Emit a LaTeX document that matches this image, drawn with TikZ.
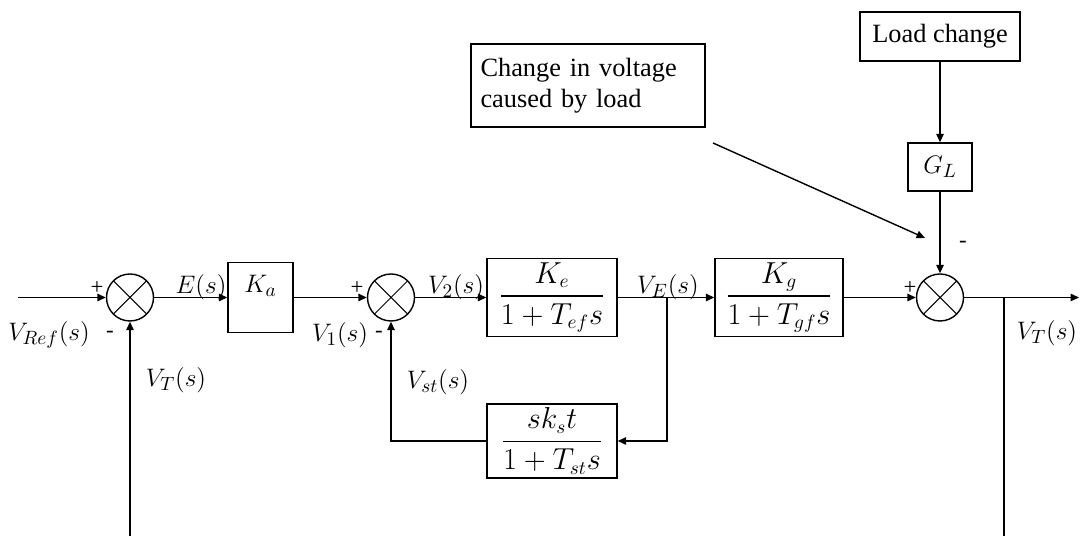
\documentclass[tikz,border=0pt]{standalone}
\usepackage{amsmath}
\usepackage{fontspec}
\setmainfont{Liberation Serif}
\usetikzlibrary{arrows.meta, positioning}

\begin{document}
\begin{tikzpicture}[
  blk/.style  = {rectangle, draw, line width=0.8pt, inner sep=2pt,
                 font=\rmfamily\fontsize{16}{18}\selectfont},
  txt/.style  = {rectangle, draw, line width=0.8pt, inner sep=2pt,
                 font=\rmfamily\fontsize{15}{17.5}\selectfont},
  sumj/.style = {circle, draw, line width=0.8pt, minimum size=0.94cm,
                 inner sep=0pt,
                 path picture={\draw[line width=0.6pt]
                   (path picture bounding box.north west) -- (path picture bounding box.south east)
                   (path picture bounding box.north east) -- (path picture bounding box.south west);}},
  sig/.style  = {font=\rmfamily\fontsize{13}{15}\selectfont, inner sep=0pt},
  lab/.style  = {font=\fontsize{15.5}{17}\selectfont, inner sep=0pt},
  arr/.style  = {-{Triangle[length=1.7mm, width=1.5mm]}, line width=0.8pt},
  lin/.style  = {line width=0.8pt},
]
\useasboundingbox (0,0) rectangle (21.6,10.72);

% forward path
\node[sumj] (sum1) at (2.60,4.77) {};
\node[blk, minimum width=1.30cm, minimum height=1.40cm,
      label={[lab, anchor=north, yshift=-0.26cm]north:$K_a$}] (ka) at (5.21,4.77) {};
\node[sumj] (sum2) at (7.82,4.77) {};
\node[blk, minimum width=2.60cm, minimum height=1.44cm] (ke) at (11.04,4.77)
      {$\dfrac{K_e}{1+T_{ef}s}$};
\node[blk, minimum width=2.56cm, minimum height=1.44cm] (kg) at (15.58,4.77)
      {$\dfrac{K_g}{1+T_{gf}s}$};
\node[sumj] (sum3) at (18.80,4.77) {};

% feedback and load
\node[blk, minimum width=2.60cm, minimum height=1.44cm] (sk) at (11.04,1.90)
      {$\dfrac{sk_st}{1+T_{st}s}$};
\node[blk, minimum width=1.28cm, minimum height=0.96cm, font=\fontsize{15.5}{17}\selectfont]
      (gl) at (18.80,7.38) {$G_L$};
\node[txt, minimum width=3.20cm, minimum height=0.98cm] (load) at (18.80,9.99) {Load change};
\node[txt, minimum width=4.68cm, minimum height=1.66cm, align=left,
      text width=4.3cm] (cause) at (11.76,9.01)
      {Change in voltage\\caused by load};

% points
\coordinate (in)   at (0.36,4.77);
\coordinate (out)  at (21.58,4.77);
\coordinate (br1)  at (13.34,4.77);
\coordinate (br2)  at (20.08,4.77);
\coordinate (bot1) at (2.60,0);
\coordinate (bot2) at (20.08,0);
\coordinate (ctail) at (14.26,7.86);
\coordinate (chead) at (18.50,5.96);

% signs and signals
\node[sig] (p1) at (1.94,4.96) {+};
\node[sig] (m1) at (2.20,4.04) {-};
\node[sig] (p2) at (7.14,4.95) {+};
\node[sig] (m2) at (7.58,4.04) {-};
\node[sig] (p3) at (18.20,4.96) {+};
\node[sig] (m3) at (19.26,5.84) {-};
\node[lab] (vref) at (0.98,4.02) {$V_{Ref}(s)$};
\node[lab] (es)   at (4.02,4.98) {$E(s)$};
\node[lab] (v1)   at (6.80,4.02) {$V_1(s)$};
\node[lab] (v2)   at (9.12,4.98) {$V_2(s)$};
\node[lab] (ve)   at (13.36,4.98) {$V_E(s)$};
\node[lab] (vst)  at (8.76,3.08) {$V_{st}(s)$};
\node[lab] (vtl)  at (3.52,3.12) {$V_T(s)$};
\node[lab] (vtr)  at (20.94,4.06) {$V_T(s)$};

\draw[arr] (in)   -- (sum1);
\draw[arr] (sum1) -- (ka);
\draw[arr] (ka)   -- (sum2);
\draw[arr] (sum2) -- (ke);
\draw[arr] (ke)   -- (kg);
\draw[arr] (br1)  |- (sk);
\draw[arr] (sk)   -| (sum2);
\draw[arr] (kg)   -- (sum3);
\draw[arr] (sum3) -- (out);
\draw[lin] (br2)  -- (bot2);
\draw[arr] (bot1) -- (sum1);
\draw[arr] (load) -- (gl);
\draw[arr] (gl)   -- (sum3);
\draw[arr] (ctail) -- (chead);

\end{tikzpicture}
\end{document}
